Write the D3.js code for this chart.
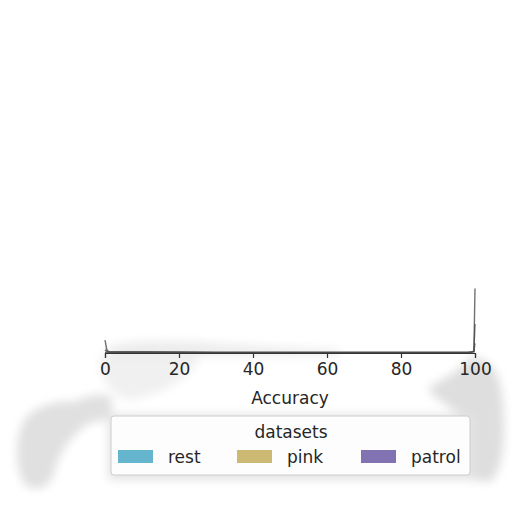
<!DOCTYPE html>
<html lang="en">
<head>
<meta charset="UTF-8">
<title>Accuracy by dataset</title>
<script src="https://d3js.org/d3.v7.min.js"></script>
<style>
  body { margin: 0; background: #fff; }
  text { font-family: "DejaVu Sans", sans-serif; fill: #262626; }
</style>
</head>
<body>
<svg id="chart" width="512" height="512"></svg>
<script>
  // accuracy grid (x) and density for each dataset
  var accuracy = [0, 0.5, 1, 2, 5, 10, 20, 30, 40, 50, 60, 70, 80, 90, 95, 98, 99, 99.7, 100];
  var rest   = [0.040, 0.010, 0.004, 0.003, 0.003, 0.003, 0.003, 0.002, 0.002, 0.002, 0.002, 0.002, 0.002, 0.002, 0.002, 0.002, 0.002, 0.004, 0.030];
  var pink   = [0.010, 0.005, 0.004, 0.003, 0.003, 0.003, 0.002, 0.002, 0.002, 0.002, 0.002, 0.002, 0.002, 0.002, 0.002, 0.002, 0.003, 0.005, 0.090];
  var patrol = [0.002, 0.002, 0.002, 0.002, 0.002, 0.002, 0.002, 0.002, 0.002, 0.002, 0.002, 0.002, 0.002, 0.002, 0.002, 0.002, 0.003, 0.006, 0.200];

  var names = ["rest", "pink", "patrol"];
  var colors = ["#64b5cd", "#ccb974", "#8172b2"];
  var xTicks = [0, 20, 40, 60, 80, 100];

  var series = [rest, pink, patrol];

  var svg = d3.select("#chart");

  var x = d3.scaleLinear().domain([0, 100]).range([105, 475]);
  var y = d3.scaleLinear().domain([0, 1]).range([353, 30]);

  // soft grey smudges seen in the picture
  var defs = svg.append("defs");
  defs.append("filter").attr("id", "blur")
    .attr("x", "-50%").attr("y", "-50%").attr("width", "200%").attr("height", "200%")
    .append("feGaussianBlur").attr("stdDeviation", 5);

  var smudge = svg.append("g").attr("filter", "url(#blur)");
  smudge.append("path")
    .attr("d", "M22,425 C30,405 60,400 75,402 C85,395 105,392 112,398 L112,418 C100,422 90,420 80,430 C70,440 60,450 55,470 C50,490 35,492 25,485 C15,470 15,440 22,425 Z")
    .attr("fill", "#e0e0e0");
  smudge.append("path")
    .attr("d", "M470,358 C485,355 500,370 502,395 C506,430 505,470 490,482 L470,480 L470,420 C455,410 435,400 428,388 C440,380 460,372 470,358 Z")
    .attr("fill", "#dedede");
  smudge.append("path")
    .attr("d", "M108,348 C120,341 150,340 200,342 C230,345 300,348 340,350 L340,356 L108,356 Z")
    .attr("fill", "#ececec");
  smudge.append("path")
    .attr("d", "M100,356 L200,356 C190,380 160,395 130,400 C110,395 100,380 100,356 Z")
    .attr("fill", "#f0f0f0");
  smudge.append("rect")
    .attr("x", 108).attr("y", 414).attr("width", 366).attr("height", 66).attr("rx", 4)
    .attr("fill", "#e4e4e4");

  // density areas
  var area = d3.area()
    .x(function (d, i) { return x(accuracy[i]); })
    .y0(y(0))
    .y1(function (d) { return y(d); });

  var line = d3.line()
    .x(function (d, i) { return x(accuracy[i]); })
    .y(function (d) { return y(d); });

  var g = svg.append("g");
  series.forEach(function (s, k) {
    g.append("path")
      .attr("d", area(s))
      .attr("fill", colors[k])
      .attr("fill-opacity", 0.25);
    g.append("path")
      .attr("d", line(s))
      .attr("fill", "none")
      .attr("stroke", "#444")
      .attr("stroke-opacity", 0.75)
      .attr("stroke-width", 1.4);
  });

  // x axis
  var axis = svg.append("g")
    .attr("transform", "translate(0," + y(0) + ")")
    .call(d3.axisBottom(x).tickValues(xTicks).tickSize(5).tickPadding(5).tickFormat(d3.format("d")));
  axis.select(".domain").attr("stroke", "#333").attr("stroke-width", 1.2);
  axis.selectAll(".tick line").attr("stroke", "#333").attr("stroke-width", 1.2);
  axis.selectAll(".tick text")
    .attr("font-size", 17)
    .attr("fill", "#262626")
    .style("font-family", "DejaVu Sans, sans-serif");

  svg.append("text")
    .attr("x", 290).attr("y", 404)
    .attr("text-anchor", "middle")
    .attr("font-size", 17)
    .text("Accuracy");

  // legend
  var legend = svg.append("g");
  legend.append("rect")
    .attr("x", 111).attr("y", 416).attr("width", 359).attr("height", 59).attr("rx", 3)
    .attr("fill", "#fff").attr("fill-opacity", 0.9)
    .attr("stroke", "#cccccc").attr("stroke-width", 1);
  legend.append("text")
    .attr("x", 291).attr("y", 438)
    .attr("text-anchor", "middle")
    .attr("font-size", 17)
    .text("datasets");

  var swatchX = [118, 237, 361];
  names.forEach(function (n, k) {
    legend.append("rect")
      .attr("x", swatchX[k]).attr("y", 450).attr("width", 35).attr("height", 13)
      .attr("fill", colors[k]);
    legend.append("text")
      .attr("x", swatchX[k] + 50).attr("y", 463)
      .attr("font-size", 17)
      .text(n);
  });
</script>
</body>
</html>
